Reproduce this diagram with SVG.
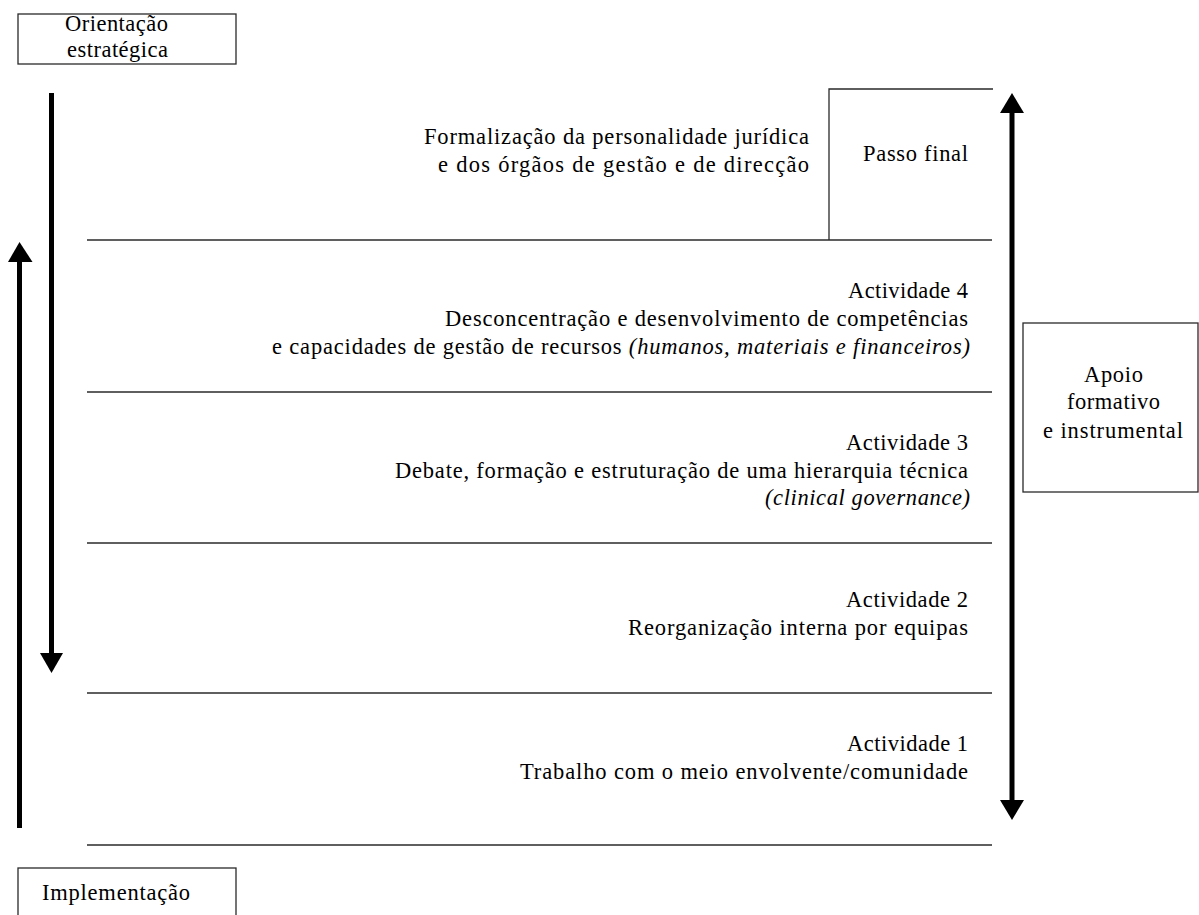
<svg xmlns="http://www.w3.org/2000/svg" width="1199" height="915" viewBox="0 0 1199 915">
<style>
text{font-family:"Liberation Serif","Times New Roman",serif;font-size:22.5px;fill:#000}
.it{font-style:italic}
.box{fill:none;stroke:#2a2a2a;stroke-width:1.3}
.sep{stroke:#2a2a2a;stroke-width:1.3;fill:none}
.shaft{stroke:#000;stroke-width:5;fill:none}
.head{fill:#000}
</style>
<rect width="1199" height="915" fill="#fff"/>
<g id="orientacao">
<rect class="box" x="18" y="14" width="218" height="50"/>
<text x="65" y="31" textLength="103" lengthAdjust="spacing">Orientação</text>
<text x="67" y="57" textLength="101" lengthAdjust="spacing">estratégica</text>
</g>
<g id="implementacao">
<rect class="box" x="18" y="868" width="218" height="60"/>
<text x="42" y="900" textLength="148" lengthAdjust="spacing">Implementação</text>
</g>
<g id="apoio">
<rect class="box" x="1023" y="323" width="175" height="169"/>
<text x="1084" y="382" textLength="59" lengthAdjust="spacing">Apoio</text>
<text x="1067" y="409" textLength="93" lengthAdjust="spacing">formativo</text>
<text x="1043" y="438" textLength="140" lengthAdjust="spacing">e instrumental</text>
</g>
<g id="separadores">
<line class="sep" x1="87" y1="240" x2="992" y2="240"/>
<line class="sep" x1="87" y1="392" x2="992" y2="392"/>
<line class="sep" x1="87" y1="543" x2="992" y2="543"/>
<line class="sep" x1="87" y1="693" x2="992" y2="693"/>
<line class="sep" x1="87" y1="845" x2="992" y2="845"/>
</g>
<g id="passo-final">
<polyline class="sep" points="829,240 829,89 993,89"/>
<text x="863" y="161" textLength="105" lengthAdjust="spacing">Passo final</text>
</g>
<g id="formalizacao">
<text x="424" y="144" textLength="385" lengthAdjust="spacing">Formalização da personalidade jurídica</text>
<text x="438" y="172" textLength="371" lengthAdjust="spacing">e dos órgãos de gestão e de direcção</text>
</g>
<g id="actividade4">
<text x="848" y="298" textLength="120" lengthAdjust="spacing">Actividade 4</text>
<text x="445" y="326" textLength="523" lengthAdjust="spacing">Desconcentração e desenvolvimento de competências</text>
<text x="272" y="354" textLength="698" lengthAdjust="spacing">e capacidades de gestão de recursos <tspan class="it">(humanos, materiais e financeiros)</tspan></text>
</g>
<g id="actividade3">
<text x="846" y="450" textLength="122" lengthAdjust="spacing">Actividade 3</text>
<text x="395" y="478" textLength="573" lengthAdjust="spacing">Debate, formação e estruturação de uma hierarquia técnica</text>
<text x="765" y="505" class="it" textLength="205" lengthAdjust="spacing">(clinical governance)</text>
</g>
<g id="actividade2">
<text x="846" y="607" textLength="122" lengthAdjust="spacing">Actividade 2</text>
<text x="628" y="635" textLength="340" lengthAdjust="spacing">Reorganização interna por equipas</text>
</g>
<g id="actividade1">
<text x="847" y="751" textLength="121" lengthAdjust="spacing">Actividade 1</text>
<text x="520" y="779" textLength="448" lengthAdjust="spacing">Trabalho com o meio envolvente/comunidade</text>
</g>
<g id="connectors">
<line class="shaft" x1="51.5" y1="93" x2="51.5" y2="656"/>
<polygon class="head" points="40,653 63,653 51.5,673"/>
<line class="shaft" x1="19.5" y1="259" x2="19.5" y2="828"/>
<polygon class="head" points="8,262 32.5,262 19.5,242"/>
<line class="shaft" x1="1012" y1="110" x2="1012" y2="803"/>
<polygon class="head" points="1000,113 1024,113 1012,93"/>
<polygon class="head" points="1000,800 1024,800 1012,820"/>
</g>
</svg>
